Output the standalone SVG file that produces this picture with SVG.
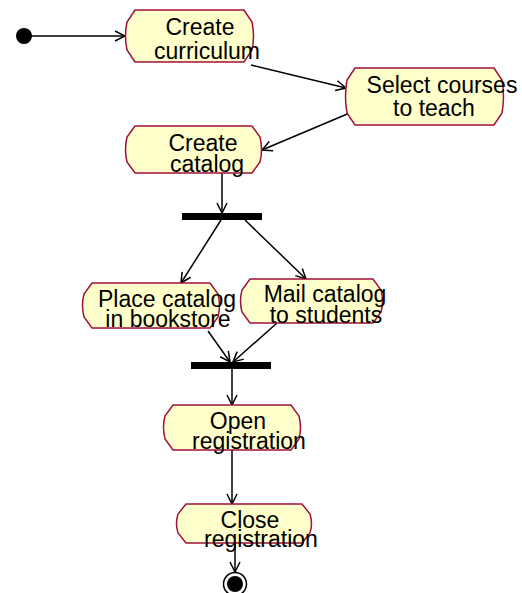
<svg xmlns="http://www.w3.org/2000/svg" width="522" height="593" viewBox="0 0 522 593">
  <style>
    .act { fill: #ffffcc; stroke: #a0103c; stroke-width: 1.5; }
    .lbl { font-family: "Liberation Sans", Arial, sans-serif; font-size: 23px; fill: #000; text-anchor: middle; }
    .edge { fill: none; stroke: #000; stroke-width: 1.5; marker-end: url(#open); }
    .bar { fill: #000; }
  </style>
  <defs>
    <marker id="open" viewBox="0 0 12 12" refX="11" refY="6" markerWidth="12" markerHeight="12" markerUnits="userSpaceOnUse" orient="auto">
      <path d="M1,1 L11,6 L1,11" fill="none" stroke="#000" stroke-width="1.5"/>
    </marker>
  </defs>
  <rect width="522" height="593" fill="#ffffff"/>

  <g id="connectors">
    <path class="edge" d="M31,36 L125,36"/>
    <path class="edge" d="M251,65 L346,88"/>
    <path class="edge" d="M352,112 L262,150"/>
    <path class="edge" d="M222,173 L222,213"/>
    <path class="edge" d="M221,220 L181,283"/>
    <path class="edge" d="M245,220 L306,279"/>
    <path class="edge" d="M208,331 L230,362"/>
    <path class="edge" d="M277,323 L233,362"/>
    <path class="edge" d="M232,369 L232,405"/>
    <path class="edge" d="M232,450 L232,504"/>
    <path class="edge" d="M235,543 L235,572"/>
  </g>

  <g id="start">
    <circle cx="24" cy="36" r="8" fill="#000"/>
  </g>

  <!-- activity states: flat top/bottom with chamfered, slightly bulging sides -->
  <g id="create-curriculum">
    <path class="act" d="M135,10 H244 L252,22 Q255,36 252,50 L244,62 H135 L127,50 Q124,36 127,22 Z"/>
    <text class="lbl" x="200" y="35">Create</text>
    <text class="lbl" x="207" y="59">curriculum</text>
  </g>

  <g id="select-courses">
    <path class="act" d="M355,68 H494 L502,80 Q505,96.5 502,113 L494,125 H355 L347,113 Q344,96.5 347,80 Z"/>
    <text class="lbl" x="442" y="93">Select courses</text>
    <text class="lbl" x="434" y="116">to teach</text>
  </g>

  <g id="create-catalog">
    <path class="act" d="M135,126 H252 L260,137 Q263,149.5 260,162 L252,173 H135 L127,162 Q124,149.5 127,137 Z"/>
    <text class="lbl" x="203" y="151">Create</text>
    <text class="lbl" x="207" y="172">catalog</text>
  </g>

  <g id="fork">
    <rect class="bar" x="182" y="213" width="80" height="7"/>
  </g>

  <g id="place-catalog">
    <path class="act" d="M92,283 H210 L218,294 Q221,305.5 218,317 L210,328 H92 L84,317 Q81,305.5 84,294 Z"/>
    <text class="lbl" x="167" y="307">Place catalog</text>
    <text class="lbl" x="168" y="327">in bookstore</text>
  </g>

  <g id="mail-catalog">
    <path class="act" d="M250,279 H373 L381,290 Q384,301 381,312 L373,323 H250 L242,312 Q239,301 242,290 Z"/>
    <text class="lbl" x="325" y="302">Mail catalog</text>
    <text class="lbl" x="326" y="323">to students</text>
  </g>

  <g id="join">
    <rect class="bar" x="191" y="362" width="80" height="7"/>
  </g>

  <g id="open-registration">
    <path class="act" d="M173,405 H291 L299,416 Q302,427.5 299,439 L291,450 H173 L165,439 Q162,427.5 165,416 Z"/>
    <text class="lbl" x="238" y="429">Open</text>
    <text class="lbl" x="249" y="449">registration</text>
  </g>

  <g id="close-registration">
    <path class="act" d="M186,504 H302 L310,514 Q313,523.5 310,533 L302,543 H186 L178,533 Q175,523.5 178,514 Z"/>
    <text class="lbl" x="250" y="528">Close</text>
    <text class="lbl" x="261" y="547">registration</text>
  </g>

  <g id="end">
    <circle cx="235" cy="584" r="11.5" fill="#fff" stroke="#000" stroke-width="1.5"/>
    <circle cx="235" cy="584" r="8" fill="#000"/>
  </g>
</svg>
